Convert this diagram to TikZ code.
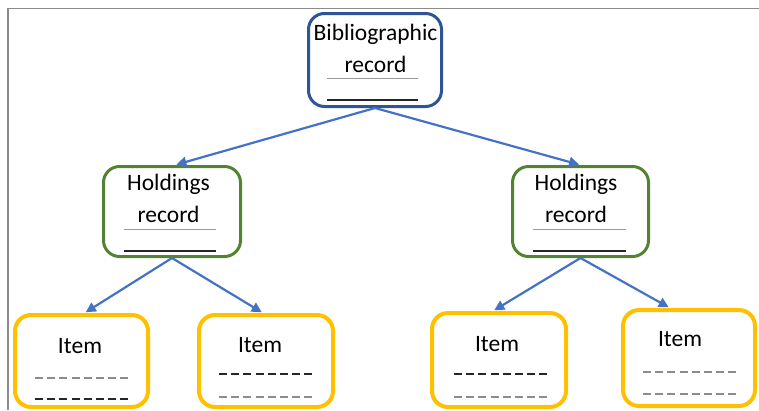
\documentclass[tikz,border=0pt]{standalone}
\usepackage{fontspec}
\setmainfont{Carlito}
\usetikzlibrary{arrows.meta}
\definecolor{bibblue}{HTML}{2F5597}
\definecolor{holdgreen}{HTML}{548235}
\definecolor{itemgold}{HTML}{FFC000}
\definecolor{linkblue}{HTML}{4472C4}
\definecolor{framegray}{HTML}{8C8C8C}

\begin{document}
\begin{tikzpicture}[x=1pt,y=-1pt,>={Triangle[length=10pt,width=10pt]},
                    link/.style={->,draw=linkblue,line width=2.2pt,shorten >=1.5pt},
                    rulegray/.style={draw=gray!80,line width=0.9pt},
                    ruleblack/.style={draw=black!85,line width=1.3pt},
                    dashgray/.style={draw=gray!90,line width=1.3pt,dash pattern=on 8pt off 4.2pt},
                    dashblack/.style={draw=black!85,line width=1.8pt,dash pattern=on 8pt off 4.2pt}]
  \tikzstyle{every node}=[inner sep=0pt,font=\fontsize{23.5}{31}\selectfont]
  \tikzstyle{box}=[draw,rounded corners=16pt]
  \tikzstyle{bibbox}=[box,draw=bibblue,line width=3pt]
  \tikzstyle{holdbox}=[box,draw=holdgreen,line width=3pt]
  \tikzstyle{itembox}=[box,draw=itemgold,line width=4pt]

  \useasboundingbox (0,0) rectangle (759,410);
  \draw[framegray,line width=1.5pt] (8,410) -- (8,8.5) -- (759,8.5);

  % boxes
  \node (bib) [bibbox,minimum width=133pt,minimum height=93pt] at (375,60) {};
  \node (h1) [holdbox,minimum width=137pt,minimum height=90pt] at (172,211.5) {};
  \node (h2) [holdbox,minimum width=136pt,minimum height=90pt] at (580.5,211.5) {};
  \node (i1) [itembox,minimum width=133pt,minimum height=92pt] at (81.5,361) {};
  \node (i2) [itembox,minimum width=134pt,minimum height=92pt] at (266,361) {};
  \node (i3) [itembox,minimum width=134pt,minimum height=94pt] at (499,360) {};
  \node (i4) [itembox,minimum width=132pt,minimum height=96pt] at (689,358) {};

  % texts
  \node (bibt1) [anchor=base] at (375.5,40) {Bibliographic};
  \node (bibt2) [anchor=base] at (375.5,72) {record};
  \node (h1t1) [anchor=base] at (168.5,190) {Holdings};
  \node (h1t2) [anchor=base] at (168.5,222) {record};
  \node (h2t1) [anchor=base] at (576,190) {Holdings};
  \node (h2t2) [anchor=base] at (576,222) {record};
  \node (i1t) [anchor=base] at (80,353) {Item};
  \node (i2t) [anchor=base] at (260,352) {Item};
  \node (i3t) [anchor=base] at (497,351) {Item};
  \node (i4t) [anchor=base] at (680,346) {Item};

  % rules
  \draw[rulegray] (327,78) -- (418,78);
  \draw[ruleblack] (327,100) -- (418,100);
  \draw[rulegray] (124,229) -- (216,229);
  \draw[ruleblack] (124,251) -- (216,251);
  \draw[rulegray] (533,229) -- (626,229);
  \draw[ruleblack] (533,251) -- (626,251);
  \draw[dashgray] (35,378) -- (128.4,378);
  \draw[dashblack] (35,399) -- (128.4,399);
  \draw[dashblack] (219,374) -- (312.4,374);
  \draw[dashgray] (219,397) -- (312.4,397);
  \draw[dashblack] (454,374) -- (547.4,374);
  \draw[dashgray] (454,397) -- (547.4,397);
  \draw[dashgray] (643,372) -- (736.4,372);
  \draw[dashgray] (643,394) -- (736.4,394);

  % links
  \draw[link] (bib.south) -- ([xshift=3pt]h1.north);
  \draw[link] (bib.south) -- (h2.north);
  \draw[link] (h1.south) -- ([xshift=3pt]i1.north);
  \draw[link] (h1.south) -- ([xshift=-3pt]i2.north);
  \draw[link] (h2.south) -- ([xshift=-6pt]i3.north);
  \draw[link] (h2.south) -- ([xshift=-19pt]i4.north);
\end{tikzpicture}
\end{document}
